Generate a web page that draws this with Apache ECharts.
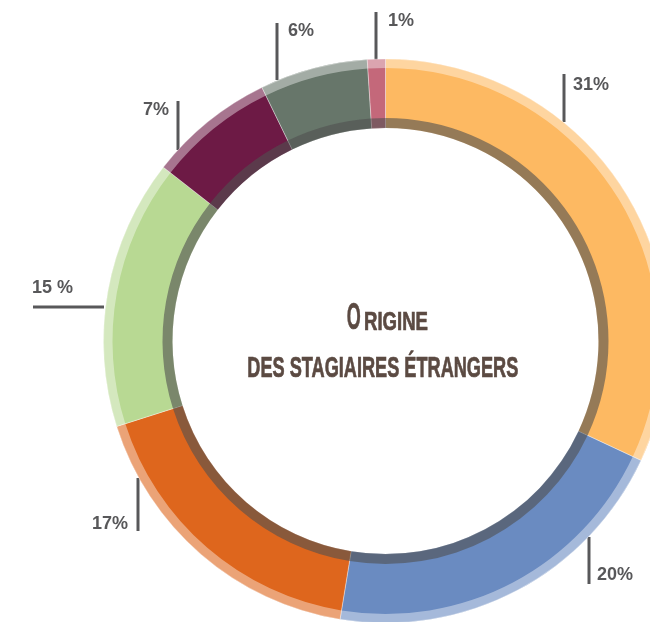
<!DOCTYPE html>
<html>
<head>
<meta charset="utf-8">
<script src="https://cdn.jsdelivr.net/npm/echarts@6/dist/echarts.min.js"></script>
<style>
  html, body { margin: 0; padding: 0; background: #fff; }
  #main { width: 650px; height: 622px; }
</style>
</head>
<body>
<div id="main"></div>
<script>
// share of foreign trainees, clockwise from the top
var values = [31, 20, 17, 15, 7, 6, 1];
var labels = ['31%', '20%', '17%', '15 %', '7%', '6%', '1%'];
var colors = ['#fdb962', '#6a8bc1', '#de661d', '#b8d993', '#6d1a45', '#67766a', '#c4687a'];

var center = [385.5, 341];
var textColor = '#58585a';
var titleColor = '#5b4a42';
var condensed = '"Liberation Sans Narrow", "Liberation Sans", sans-serif';

// label anchor + leader line for each slice (pixels)
var labelSpots = [
    { x: 573, y: 85, align: 'left', line: [[564, 122], [564, 100], [564, 74]] },
    { x: 597, y: 575, align: 'left', line: [[589, 537], [589, 560], [589, 584]] },
    { x: 128, y: 524, align: 'right', line: [[138, 478], [138, 505], [138, 531]] },
    { x: 32, y: 288, align: 'left', line: [[104, 307], [70, 307], [33, 307]] },
    { x: 169, y: 110, align: 'right', line: [[178, 150], [178, 125], [178, 101]] },
    { x: 288, y: 31, align: 'left', line: [[277, 80], [277, 50], [277, 23]] },
    { x: 388, y: 21, align: 'left', line: [[376, 60], [376, 35], [376, 12]] }
];

// squeeze a title string to the width it has in the picture
var ctx = document.createElement('canvas').getContext('2d');
function squeeze(text, font, width) {
    ctx.font = font;
    return width / ctx.measureText(text).width;
}
function titleText(text, size, x, y, width, align) {
    var font = 'bold ' + size + 'px ' + condensed;
    return {
        type: 'text', x: x, y: y,
        scaleX: squeeze(text, font, width), scaleY: 1,
        style: {
            text: text, font: font, fill: titleColor,
            stroke: titleColor, lineWidth: 0.7,
            align: align, verticalAlign: 'middle'
        }
    };
}

var myChart = echarts.init(document.getElementById('main'));

var sliceData = [];
for (var i = 0; i < values.length; i++) {
    sliceData.push({ value: values[i], name: labels[i], itemStyle: { color: colors[i] } });
}

var option = {
    animation: false,
    graphic: [
        titleText('O', 37, 346.7, 318.5, 14, 'left'),
        titleText('RIGINE', 26, 364, 322.5, 64, 'left'),
        titleText('DES STAGIAIRES ÉTRANGERS', 29, 382.8, 368.8, 271, 'center')
    ],
    series: [
        {
            name: 'origine',
            type: 'pie',
            center: center,
            radius: [213, 282],
            startAngle: 90,
            avoidLabelOverlap: false,
            emphasis: { disabled: true },
            itemStyle: { borderColor: 'rgba(255,255,255,0.45)', borderWidth: 0.8 },
            label: {
                show: true,
                position: 'outside',
                formatter: function (p) { return labels[p.dataIndex]; },
                color: textColor,
                fontSize: 18,
                fontWeight: 'bold',
                fontFamily: condensed
            },
            labelLine: {
                show: true,
                lineStyle: { color: textColor, width: 3 }
            },
            labelLayout: function (p) {
                var s = labelSpots[p.dataIndex];
                return { x: s.x, y: s.y, align: s.align, verticalAlign: 'middle', labelLinePoints: s.line };
            },
            data: sliceData
        },
        {
            // darker inner rim
            type: 'pie',
            center: center,
            radius: [213, 223],
            startAngle: 90,
            silent: true,
            emphasis: { disabled: true },
            label: { show: false },
            labelLine: { show: false },
            itemStyle: { color: 'rgba(80,80,80,0.6)' },
            data: values
        },
        {
            // pale outer rim
            type: 'pie',
            center: center,
            radius: [273, 282],
            startAngle: 90,
            silent: true,
            emphasis: { disabled: true },
            label: { show: false },
            labelLine: { show: false },
            itemStyle: { color: 'rgba(255,255,255,0.4)' },
            data: values
        }
    ]
};

myChart.setOption(option);
</script>
</body>
</html>
